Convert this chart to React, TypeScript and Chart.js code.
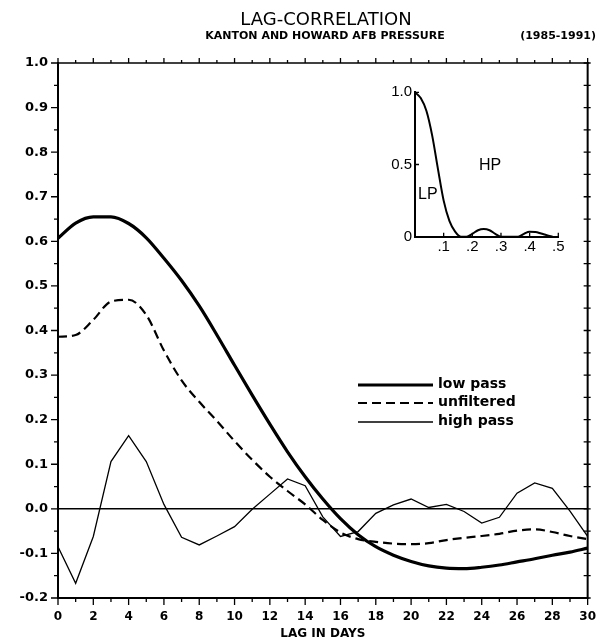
import React, { useEffect, useRef } from "react";
import { Chart, registerables } from "chart.js";

Chart.register(...registerables);

// ---------- data ----------
const lagDays = [0, 1, 2, 3, 4, 5, 6, 7, 8, 9, 10, 11, 12, 13, 14, 15, 16, 17, 18, 19, 20, 21, 22, 23, 24, 25, 26, 27, 28, 29, 30];
const lowPass = [0.607, 0.641, 0.655, 0.655, 0.64, 0.608, 0.562, 0.512, 0.455, 0.39, 0.322, 0.255, 0.19, 0.128, 0.072, 0.022, -0.022, -0.058, -0.085, -0.104, -0.118, -0.128, -0.133, -0.134, -0.131, -0.126, -0.119, -0.112, -0.104, -0.097, -0.088];
const unfiltered = [0.386, 0.39, 0.424, 0.465, 0.469, 0.435, 0.355, 0.288, 0.24, 0.197, 0.152, 0.11, 0.072, 0.04, 0.01, -0.025, -0.053, -0.068, -0.074, -0.078, -0.079, -0.077, -0.07, -0.065, -0.061, -0.056, -0.049, -0.046, -0.052, -0.061, -0.068];
const highPass = [-0.085, -0.167, -0.062, 0.106, 0.164, 0.106, 0.01, -0.064, -0.081, -0.061, -0.04, -0.001, 0.033, 0.067, 0.052, -0.018, -0.062, -0.051, -0.01, 0.009, 0.022, 0.003, 0.01, -0.006, -0.032, -0.019, 0.035, 0.058, 0.046, -0.005, -0.062];

const insetFreq = [0, 0.02, 0.04, 0.06, 0.08, 0.1, 0.12, 0.14, 0.16, 0.18, 0.2, 0.22, 0.24, 0.26, 0.28, 0.3, 0.34, 0.36, 0.38, 0.4, 0.42, 0.44, 0.46, 0.48];
const insetResponse = [1.0, 0.96, 0.87, 0.7, 0.47, 0.25, 0.11, 0.035, 0.0, 0.0, 0.02, 0.045, 0.053, 0.045, 0.02, 0.0, 0.0, 0.0, 0.02, 0.034, 0.033, 0.022, 0.01, 0.0];

const seriesLabels = ["low pass", "unfiltered", "high pass"];
const titleText = "LAG-CORRELATION";
const subtitleText = "KANTON AND HOWARD AFB PRESSURE";
const periodText = "(1985-1991)";
const xAxisTitle = "LAG IN DAYS";
const insetLowLabel = "LP";
const insetHighLabel = "HP";

const FONT = "'DejaVu Sans', sans-serif";
const INSET_FONT = "'Liberation Sans', Arial, sans-serif";

const fmtY = (v: number) => {
  if (Math.abs(v) < 1e-9) return "0.0";
  return v.toFixed(1);
};

const mainDecor = {
  id: "mainDecor",
  afterDraw(chart: any) {
    const ctx = chart.ctx as CanvasRenderingContext2D;
    const { left, right, top, bottom } = chart.chartArea;
    const xs = chart.scales.x;
    const ys = chart.scales.y;
    ctx.save();
    ctx.strokeStyle = "#000";
    ctx.fillStyle = "#000";
    ctx.lineCap = "butt";

    // frame
    ctx.lineWidth = 2;
    ctx.beginPath();
    ctx.moveTo(left, top - 1);
    ctx.lineTo(left, bottom + 1);
    ctx.moveTo(left - 1, bottom);
    ctx.lineTo(right + 1, bottom);
    ctx.moveTo(right, bottom + 1);
    ctx.lineTo(right, top - 1);
    ctx.stroke();
    ctx.lineWidth = 1.5;
    ctx.beginPath();
    ctx.moveTo(left - 1, top);
    ctx.lineTo(right + 1, top);
    ctx.stroke();

    // zero line
    const y0 = ys.getPixelForValue(0);
    ctx.lineWidth = 1.5;
    ctx.beginPath();
    ctx.moveTo(left, y0);
    ctx.lineTo(right, y0);
    ctx.stroke();

    // y ticks
    ctx.lineWidth = 1.3;
    ctx.beginPath();
    for (let i = -4; i <= 20; i++) {
      const py = ys.getPixelForValue(i * 0.05);
      const len = i % 2 === 0 ? 7 : 4;
      ctx.moveTo(left - len, py);
      ctx.lineTo(left, py);
      ctx.moveTo(right - 4, py);
      ctx.lineTo(right + 3, py);
    }
    // x ticks
    for (const d of lagDays) {
      const px = xs.getPixelForValue(d);
      const lenB = d % 2 === 0 ? 7 : 4;
      ctx.moveTo(px, bottom);
      ctx.lineTo(px, bottom + lenB);
      const lenT = d % 2 === 0 ? 5 : 3;
      ctx.moveTo(px, top);
      ctx.lineTo(px, top - lenT);
    }
    ctx.stroke();

    // legend
    const lx0 = 358;
    const lx1 = 433;
    const lys = [385, 403, 422];
    const widths = [3.2, 2.2, 1.3];
    const dashes = [[], [9, 5], []];
    for (let i = 0; i < 3; i++) {
      ctx.lineWidth = widths[i];
      ctx.setLineDash(dashes[i]);
      ctx.beginPath();
      ctx.moveTo(lx0, lys[i]);
      ctx.lineTo(lx1, lys[i]);
      ctx.stroke();
    }
    ctx.setLineDash([]);
    ctx.font = `bold 14px ${FONT}`;
    ctx.textAlign = "left";
    ctx.textBaseline = "middle";
    for (let i = 0; i < 3; i++) ctx.fillText(seriesLabels[i], 438, lys[i] - 1);

    // titles
    ctx.textAlign = "center";
    ctx.font = `18px ${FONT}`;
    ctx.fillText(titleText, 326, 20);
    ctx.font = `bold 11px ${FONT}`;
    ctx.fillText(subtitleText, 325, 36);
    ctx.textAlign = "right";
    ctx.fillText(periodText, 596, 36);
    ctx.restore();
  },
};

const insetDecor = {
  id: "insetDecor",
  afterDraw(chart: any) {
    const ctx = chart.ctx as CanvasRenderingContext2D;
    const { left, bottom } = chart.chartArea;
    const xs = chart.scales.x;
    const ys = chart.scales.y;
    ctx.save();
    ctx.strokeStyle = "#000";
    ctx.fillStyle = "#000";
    ctx.lineWidth = 1.3;
    ctx.beginPath();
    for (const v of [0, 0.5, 1]) {
      const py = ys.getPixelForValue(v);
      ctx.moveTo(left, py);
      ctx.lineTo(left + 4, py);
    }
    for (const v of [0.1, 0.2, 0.3, 0.4, 0.5]) {
      const px = xs.getPixelForValue(v);
      ctx.moveTo(px, bottom);
      ctx.lineTo(px, bottom - 4);
    }
    ctx.stroke();
    ctx.font = `16px ${INSET_FONT}`;
    ctx.textAlign = "center";
    ctx.textBaseline = "middle";
    ctx.fillText(insetLowLabel, xs.getPixelForValue(0.045), ys.getPixelForValue(0.29));
    ctx.fillText(insetHighLabel, xs.getPixelForValue(0.262), ys.getPixelForValue(0.49));
    ctx.restore();
  },
};

export default function App() {
  const mainRef = useRef<HTMLCanvasElement | null>(null);
  const insetRef = useRef<HTMLCanvasElement | null>(null);

  useEffect(() => {
    const toPts = (arr: number[]) => lagDays.map((d, i) => ({ x: d, y: arr[i] }));
    const main = new Chart(mainRef.current as HTMLCanvasElement, {
      type: "line",
      data: {
        datasets: [
          {
            label: seriesLabels[0],
            data: toPts(lowPass),
            borderColor: "#000",
            borderWidth: 3.2,
            pointRadius: 0,
            cubicInterpolationMode: "monotone",
            fill: false,
          },
          {
            label: seriesLabels[1],
            data: toPts(unfiltered),
            borderColor: "#000",
            borderWidth: 2.2,
            borderDash: [9, 5],
            pointRadius: 0,
            cubicInterpolationMode: "monotone",
            fill: false,
          },
          {
            label: seriesLabels[2],
            data: toPts(highPass),
            borderColor: "#000",
            borderWidth: 1.3,
            pointRadius: 0,
            tension: 0,
            fill: false,
          },
        ],
      },
      options: {
        responsive: false,
        animation: false,
        events: [],
        layout: { padding: { top: 63, right: 11, left: 0, bottom: 0 } },
        plugins: { legend: { display: false }, tooltip: { enabled: false }, title: { display: false } },
        scales: {
          x: {
            type: "linear",
            min: 0,
            max: 30,
            grid: { display: false, drawTicks: false },
            border: { display: false },
            ticks: {
              stepSize: 2,
              autoSkip: false,
              maxRotation: 0,
              padding: 12,
              color: "#000",
              font: { family: FONT, size: 12, weight: "bold" },
            },
            title: {
              display: true,
              text: xAxisTitle,
              color: "#000",
              padding: { top: 0, bottom: -1 },
              font: { family: FONT, size: 12, weight: "bold", lineHeight: 1 },
            },
            afterFit(s: any) {
              s.height = 41;
            },
          },
          y: {
            type: "linear",
            min: -0.2,
            max: 1.0,
            grid: { display: false, drawTicks: false },
            border: { display: false },
            ticks: {
              stepSize: 0.1,
              padding: 10,
              color: "#000",
              font: { family: FONT, size: 13, weight: "bold" },
              callback: (v: any) => fmtY(Number(v)),
            },
            afterFit(s: any) {
              s.width = 58;
            },
          },
        },
      },
      plugins: [mainDecor],
    } as any);

    const inset = new Chart(insetRef.current as HTMLCanvasElement, {
      type: "line",
      data: {
        datasets: [
          {
            label: "response",
            data: insetFreq.map((f, i) => ({ x: f, y: insetResponse[i] })),
            borderColor: "#000",
            borderWidth: 2,
            pointRadius: 0,
            cubicInterpolationMode: "monotone",
            fill: false,
            clip: false,
          },
        ],
      },
      options: {
        responsive: false,
        animation: false,
        events: [],
        layout: { padding: { top: 12.3, right: 11.7, left: 0, bottom: 0 } },
        plugins: { legend: { display: false }, tooltip: { enabled: false } },
        scales: {
          x: {
            type: "linear",
            min: 0,
            max: 0.5,
            grid: { display: false, drawTicks: false },
            border: { display: true, color: "#000", width: 2 },
            ticks: {
              stepSize: 0.1,
              padding: 1,
              color: "#000",
              maxRotation: 0,
              autoSkip: false,
              font: { family: INSET_FONT, size: 15 },
              callback: (v: any) => (Number(v) < 0.05 ? "" : "." + Math.round(Number(v) * 10)),
            },
            afterFit(s: any) {
              s.height = 28.3;
            },
          },
          y: {
            type: "linear",
            min: 0,
            max: 1,
            grid: { display: false, drawTicks: false },
            border: { display: true, color: "#000", width: 2 },
            ticks: {
              stepSize: 0.5,
              padding: 3,
              color: "#000",
              font: { family: INSET_FONT, size: 15 },
              callback: (v: any) => (Number(v) === 0 ? "0" : Number(v).toFixed(1)),
            },
            afterFit(s: any) {
              s.width = 55;
            },
          },
        },
      },
      plugins: [insetDecor],
    } as any);

    return () => {
      main.destroy();
      inset.destroy();
    };
  }, []);

  return (
    <div style={{ position: "fixed", left: 0, top: 0, width: 608, height: 639, background: "#fff" }}>
      <canvas ref={mainRef} width={608} height={639} style={{ position: "absolute", left: 0, top: 0, width: 608, height: 639 }} />
      <canvas ref={insetRef} width={210} height={185} style={{ position: "absolute", left: 360, top: 80, width: 210, height: 185 }} />
    </div>
  );
}
